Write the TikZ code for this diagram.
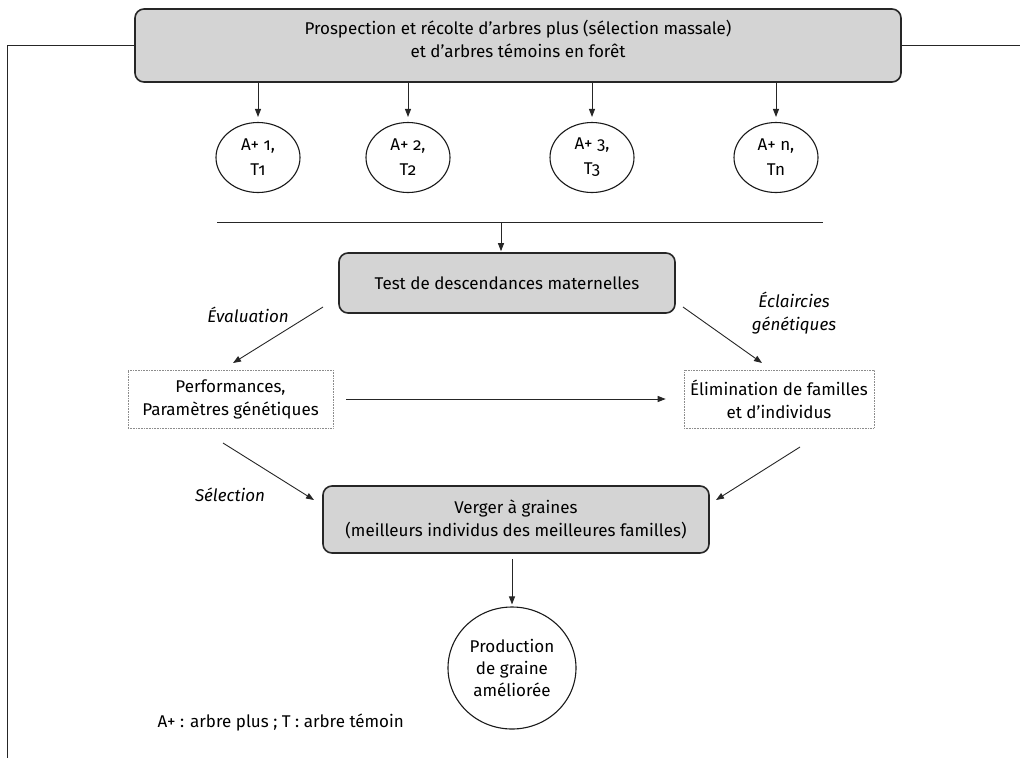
\documentclass[tikz,border=0pt]{standalone}
\usepackage{fontspec}
\setmainfont{Fira Sans}[Numbers=OldStyle]
\usetikzlibrary{arrows.meta}
\usetikzlibrary{shapes.geometric}

\tikzset{
  grisbox/.style={draw=black!85, line width=1.6pt, fill=black!17, rounded corners=9pt, align=center, inner sep=0pt},
  pointbox/.style={draw=black!45, densely dotted, line width=0.6pt, align=center, inner sep=0pt},
  arbre/.style={draw=black!90, ellipse, line width=1.1pt, align=center, inner sep=0pt, minimum width=84pt, minimum height=70pt, font=\fontsize{17}{25}\selectfont},
  fleche/.style={draw=black!85, line width=0.9pt, -{Triangle[length=8pt,width=6pt]}},
  etiq/.style={font=\fontsize{17}{23}\selectfont\itshape, align=center},
}

\begin{document}
\begin{tikzpicture}[x=1pt, y=-1pt, font=\fontsize{17}{23}\selectfont]
	\useasboundingbox (0,0) rectangle (1020,758);
	% boites
	\node[grisbox, minimum width=766pt, minimum height=73pt] (prosp) at (518,45.5) {Prospection et récolte d'arbres plus (sélection massale)\\et d'arbres témoins en forêt\\[-9pt]};
	\node[arbre] (a1) at (258,157.5) {A+ 1,\\T1};
	\node[arbre] (a2) at (408,157.5) {A+ 2,\\T2};
	\node[arbre] (a3) at (592,157.5) {A+ 3,\\T3};
	\node[arbre] (an) at (776,157.5) {A+ n,\\Tn};
	\node[grisbox, minimum width=336pt, minimum height=60pt] (test) at (507,283) {Test de descendances maternelles};
	\node[pointbox, minimum width=205pt, minimum height=58pt] (perf) at (230.5,399) {Performances,\\Paramètres génétiques};
	\node[pointbox, minimum width=190pt, minimum height=58pt] (elim) at (779,399) {Élimination de familles\\et d'individus};
	\node[grisbox, minimum width=386pt, minimum height=67pt] (verger) at (516,519.5) {Verger à graines\\(meilleurs individus des meilleures familles)};
	\node[arbre, minimum width=128pt, minimum height=122pt, font=\fontsize{17}{22}\selectfont] (prod) at (512,668) {Production\\de graine\\améliorée};
	\node[anchor=west] (note) at (154,722) {A+ : arbre plus ; T : arbre témoin};
	% etiquettes
	\node[etiq] (eval) at (248,315) {Évaluation};
	\node[etiq] (eclair) at (794,313) {Éclaircies\\génétiques};
	\node[etiq] (selec) at (230,495) {Sélection};
	% cadre
	\coordinate (cadre) at (7,758);
	\coordinate (bord) at (1020,45.5);
	\draw[black!85, line width=1pt] (prosp.west) -| (cadre);
	\draw[black!85, line width=1pt] (prosp.east) -- (bord);
	% fleches
	\foreach \n in {a1,a2,a3,an}
		\draw[fleche, shorten >=5pt] (prosp.south -| \n) -- (\n);
	\coordinate (lg) at (217,222);
	\coordinate (ld) at (823,222);
	\coordinate (lm) at (501,222);
	\draw[black!85, line width=0.9pt] (lg) -- (ld);
	\draw[fleche, shorten >=1pt] (lm) -- (lm |- test.north);
	\coordinate (ev1) at (323,307); \coordinate (ev2) at (233,363);
	\coordinate (ec1) at (683,307); \coordinate (ec2) at (762,363);
	\coordinate (se1) at (223,443); \coordinate (se2) at (314,500);
	\coordinate (el1) at (800,447); \coordinate (el2) at (716,500);
	\draw[fleche] (ev1) -- (ev2);
	\draw[fleche] (ec1) -- (ec2);
	\draw[fleche] ([xshift=13pt]perf.east) -- ([xshift=-18pt]elim.west);
	\draw[fleche] (se1) -- (se2);
	\draw[fleche] (el1) -- (el2);
	\draw[fleche, shorten >=2pt] ([yshift=-5pt]verger.south -| prod) -- (prod.north);
\end{tikzpicture}
\end{document}
